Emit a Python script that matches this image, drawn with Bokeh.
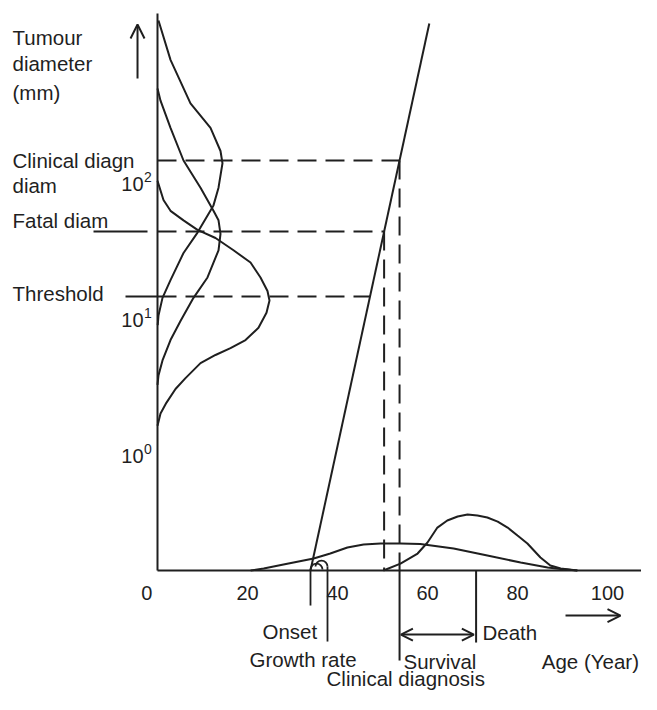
import numpy as np
from bokeh.plotting import figure
from bokeh.models import Range1d, Arrow, OpenHead
from bokeh.core.properties import value
from bokeh.embed import file_html
from bokeh.resources import INLINE

# ------------------------------------------------------------------ data
# age axis ticks (years)
x_ticks = [0, 20, 40, 60, 80, 100]
x_tick_labels = ["0", "20", "40", "60", "80", "100"]
# diameter axis ticks (log10 of diameter in mm)
y_ticks = [0, 1, 2]
y_tick_base = ["10", "10", "10"]
y_tick_exp = ["0", "1", "2"]

# characteristic diameters (mm)
threshold_diam = 10.0
fatal_diam = 30.0
clinical_diam = 100.0

# tumour growth line: age (years) vs log10 diameter
growth_age = [34.0, 60.4]
growth_logd = [-1.015, 3.007]

# age at death
death_age = 70.8

# distributions of the three diameters (log10 mm vs relative density)
clin_logd = [3.03, 2.74, 2.42, 2.24, 2.07, 1.98, 1.80, 1.67, 1.47, 1.32, 1.12, 0.99, 0.86, 0.79]
clin_dens = [0.22, 2.89, 7.33, 11.78, 14.0, 14.44, 13.56, 12.44, 8.89, 5.78, 2.89, 1.11, 0.22, 0.05]

fatal_logd = [2.53, 2.44, 2.24, 2.00, 1.80, 1.63, 1.56, 1.46, 1.34, 1.14, 0.99, 0.82, 0.68, 0.53, 0.42, 0.35]
fatal_dens = [0.0, 0.67, 2.89, 5.78, 9.56, 12.44, 13.56, 14.0, 13.56, 11.11, 8.0, 5.11, 2.89, 1.11, 0.22, 0.0]

thr_logd = [1.85, 1.71, 1.63, 1.56, 1.49, 1.43, 1.34, 1.25, 1.14, 1.04, 0.97, 0.88, 0.77, 0.68,
            0.62, 0.57, 0.51, 0.40, 0.32, 0.22, 0.14, 0.05]
thr_dens = [0.0, 1.33, 2.89, 5.78, 8.89, 12.89, 16.89, 20.67, 22.89, 24.44, 24.89, 24.22, 22.44, 19.56,
            16.22, 12.89, 9.56, 6.22, 4.0, 2.0, 0.67, 0.0]

# age distributions (years vs relative density)
onset_dist_age = [20.7, 23.6, 28.0, 34.7, 38.4, 42.2, 45.8, 49.6, 54.0, 58.4, 65.8, 73.3, 80.7, 86.7, 89.6, 93.3]
onset_dist_dens = [0.0, 0.015, 0.044, 0.088, 0.125, 0.169, 0.191, 0.199, 0.199, 0.195, 0.162, 0.110,
                   0.059, 0.022, 0.011, 0.0]

death_dist_age = [50.2, 54.0, 57.8, 60.0, 62.2, 64.4, 66.7, 68.9, 71.1, 73.3, 75.6, 77.8, 80.0, 82.2,
                  85.1, 87.3, 89.6, 93.3]
death_dist_dens = [0.0, 0.051, 0.125, 0.206, 0.316, 0.368, 0.397, 0.412, 0.404, 0.390, 0.360, 0.316,
                   0.257, 0.199, 0.096, 0.037, 0.015, 0.0]

# ------------------------------------------------------------------ layout
AXIS_Y = -1.015          # level (log10 units) where the age axis is drawn
DEC_PX = 1 / 136.0       # decades per pixel
YR_PX = 1 / 4.5          # years per pixel
INK = "#1f1f1f"
FONT = value("Liberation Sans")

p = figure(width=641, height=694,
           x_range=Range1d(-34.889, 107.556), y_range=Range1d(-1.9265, 3.1765),
           output_backend="svg", toolbar_location=None, title=None,
           x_axis_location=None, y_axis_location=None, min_border=0)
p.grid.visible = False
p.outline_line_color = None
p.background_fill_color = "white"
p.border_fill_color = "white"

# axes
x_end = p.x_range.end
p.line([0, 0], [AXIS_Y, 3.081], line_color=INK, line_width=2)
p.line([0, x_end], [AXIS_Y, AXIS_Y], line_color=INK, line_width=2)

# growth line
p.line(growth_age, growth_logd, line_color=INK, line_width=2)

levels = np.log10([clinical_diam, fatal_diam, threshold_diam])
cross = np.interp(levels, growth_logd, growth_age)
clinical_age, fatal_age = cross[0], cross[1]

# dashed guides
p.multi_line([[0, c] for c in cross], [[l, l] for l in levels],
             line_color=INK, line_width=2, line_dash="19 9")
p.multi_line([[fatal_age, fatal_age], [clinical_age, clinical_age]],
             [[levels[1], AXIS_Y], [levels[0], AXIS_Y]],
             line_color=INK, line_width=2, line_dash="19 9")

# short solid ticks left of the axis
p.line([-14.22, -2.22], [levels[1], levels[1]], line_color=INK, line_width=2)
p.line([-7.11, 0], [levels[2], levels[2]], line_color=INK, line_width=2)

# size distributions on the diameter axis
for dens, logd in [(clin_dens, clin_logd), (fatal_dens, fatal_logd), (thr_dens, thr_logd)]:
    p.line(dens, logd, line_color=INK, line_width=2)

# age distributions on the age axis
p.line(onset_dist_age, [AXIS_Y + d for d in onset_dist_dens], line_color=INK, line_width=2)
p.line(death_dist_age, [AXIS_Y + d for d in death_dist_dens], line_color=INK, line_width=2)

# pointers below the age axis
onset = growth_age[0]
gr_x = onset + 17 * YR_PX
p.line([onset, onset], [AXIS_Y + 1 * DEC_PX, AXIS_Y - 35 * DEC_PX], line_color=INK, line_width=1.8)
p.line([gr_x, gr_x], [AXIS_Y + 4 * DEC_PX, AXIS_Y - 71 * DEC_PX], line_color=INK, line_width=1.8)
p.arc([onset + 6 * YR_PX, gr_x - 6 * YR_PX], [AXIS_Y + 1 * DEC_PX, AXIS_Y + 4 * DEC_PX],
      radius=6, radius_units="screen", start_angle=0, end_angle=np.pi,
      line_color=INK, line_width=1.8)
p.line([clinical_age, clinical_age], [AXIS_Y, AXIS_Y - 90 * DEC_PX], line_color=INK, line_width=2)
p.line([death_age, death_age], [AXIS_Y, AXIS_Y - 72 * DEC_PX], line_color=INK, line_width=2)

# arrows
surv_y = AXIS_Y - 64 * DEC_PX
p.add_layout(Arrow(x_start=clinical_age + 0.3, y_start=surv_y, x_end=death_age - 0.5, y_end=surv_y,
                   start=OpenHead(size=12, line_width=2, line_color=INK),
                   end=OpenHead(size=12, line_width=2, line_color=INK),
                   line_width=2, line_color=INK))
age_y = AXIS_Y - 45 * DEC_PX
p.add_layout(Arrow(x_start=90.67, y_start=age_y, x_end=102.89, y_end=age_y, start=None,
                   end=OpenHead(size=13, line_width=2, line_color=INK),
                   line_width=2, line_color=INK))
p.add_layout(Arrow(x_start=-4.44, y_start=2.603, x_end=-4.44, y_end=3.0, start=None,
                   end=OpenHead(size=14, line_width=2, line_color=INK),
                   line_width=2, line_color=INK))

# texts
def txt(xs, ys, texts, size="20.5px", align="left"):
    p.text(xs, ys, text=texts, text_font=FONT, text_font_size=size, text_color=INK,
           text_align=align, text_baseline="alphabetic")

left_x = -32.22
txt([left_x] * 7, [2.904, 2.713, 2.5, 2.0, 1.816, 1.559, 1.022],
    ["Tumour", "diameter", "(mm)", "Clinical diagn", "diam", "Fatal diam", "Threshold"])

# y tick labels (10 with superscript exponent)
txt([-3.11] * 3, [t - 0.172 for t in y_ticks], y_tick_base, size="20px", align="right")
txt([-3.0] * 3, [t - 0.122 for t in y_ticks], y_tick_exp, size="14px", align="left")

# x tick labels
txt([t if t > 0 else t - 2.4 for t in x_ticks], [AXIS_Y - 22 * DEC_PX] * len(x_ticks),
    x_tick_labels, size="20px", align="center")

txt([23.33, 20.44, 37.56, 72.22, 54.67],
    [-1.463, -1.669, -1.809, -1.471, -1.684],
    ["Onset", "Growth rate", "Clinical diagnosis", "Death", "Survival"])
txt([107.0], [-1.684], ["Age (Year)"], align="right")

open("out.html", "w").write(file_html(p, INLINE))
